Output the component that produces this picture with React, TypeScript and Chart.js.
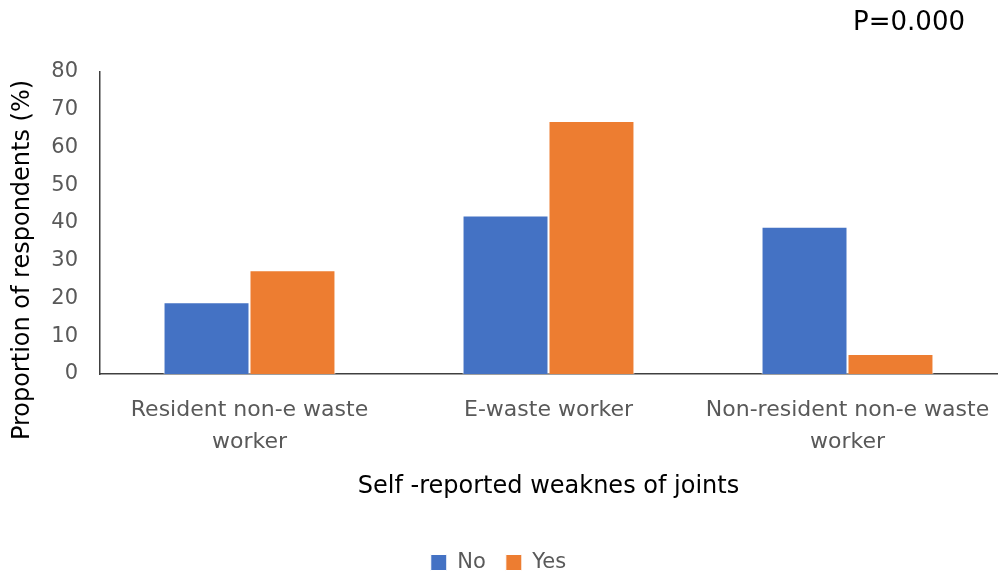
import React, { useEffect, useRef } from "react";
import { Chart, registerables } from "chart.js";

Chart.register(...registerables);

const categories: string[][] = [
  ["Resident non-e waste", "worker"],
  ["E-waste worker"],
  ["Non-resident non-e waste", "worker"],
];
const noValues = [19, 42, 39];
const yesValues = [27.5, 67, 5.3];
const seriesNames = ["No", "Yes"];
const yTicks = { min: 0, max: 80, step: 10 };
const yAxisTitle = "Proportion of respondents (%)";
const xAxisTitle = "Self -reported weaknes of joints";
const pValueText = "P=0.000";

const FONT = "'DejaVu Sans', 'Noto Sans', sans-serif";

// Extra annotations: the p-value in the top-right corner and the
// rotated y-axis caption, placed a little below the plot's middle.
const annotationPlugin = {
  id: "annotations",
  afterDraw(chart: Chart) {
    const ctx = chart.ctx;
    ctx.save();
    ctx.fillStyle = "#000000";
    ctx.font = `26px ${FONT}`;
    ctx.textAlign = "right";
    ctx.textBaseline = "middle";
    ctx.fillText(pValueText, 965, 23);

    ctx.font = `24px ${FONT}`;
    ctx.textAlign = "center";
    ctx.translate(23, 260);
    ctx.rotate(-Math.PI / 2);
    ctx.fillText(yAxisTitle, 0, 0);
    ctx.restore();
  },
};

export default function App() {
  const ref = useRef<HTMLCanvasElement | null>(null);

  useEffect(() => {
    document.body.style.margin = "0";
    const canvas = ref.current;
    if (!canvas) return;
    const chart = new Chart(canvas, {
      type: "bar",
      data: {
        labels: categories,
        datasets: [
          {
            label: seriesNames[0],
            data: noValues,
            backgroundColor: "#4472C4",
            borderColor: "#ffffff",
            borderWidth: 1,
          },
          {
            label: seriesNames[1],
            data: yesValues,
            backgroundColor: "#ED7D31",
            borderColor: "#ffffff",
            borderWidth: 1,
          },
        ],
      },
      options: {
        animation: false,
        responsive: false,
        maintainAspectRatio: false,
        layout: { padding: { top: 72, right: 1, left: 0, bottom: -10 } },
        datasets: {
          bar: { categoryPercentage: 0.575, barPercentage: 1.0 },
        },
        plugins: {
          title: { display: false },
          tooltip: { enabled: false },
          legend: {
            position: "bottom",
            labels: {
              boxWidth: 16,
              boxHeight: 16,
              padding: 20,
              color: "#595959",
              font: { family: FONT, size: 21 },
            },
          },
        },
        scales: {
          x: {
            grid: { display: false, drawTicks: false },
            border: { display: true, color: "#404040", width: 1.5 },
            ticks: {
              color: "#595959",
              padding: 20,
              maxRotation: 0,
              autoSkip: false,
              font: { family: FONT, size: 22, lineHeight: 1.455 },
            },
            title: {
              display: true,
              text: xAxisTitle,
              color: "#000000",
              font: { family: FONT, size: 24 },
              padding: { top: 8, bottom: 31 },
            },
            afterFit(scale: any) {
              scale.height = 158;
              scale.paddingLeft = 0;
              scale.paddingRight = 0;
            },
          },
          y: {
            min: yTicks.min,
            max: yTicks.max,
            grid: { display: false, drawTicks: false },
            border: { display: true, color: "#404040", width: 1.5 },
            ticks: {
              stepSize: yTicks.step,
              color: "#595959",
              padding: 22,
              font: { family: FONT, size: 21 },
            },
            title: { display: false },
            afterFit(scale: any) {
              scale.width = 100;
            },
          },
        },
      },
      plugins: [annotationPlugin],
    });
    return () => chart.destroy();
  }, []);

  return (
    <div style={{ position: "fixed", left: 0, top: 0, width: 998, height: 573 }}>
      <canvas ref={ref} width={998} height={573} style={{ display: "block" }} />
    </div>
  );
}
